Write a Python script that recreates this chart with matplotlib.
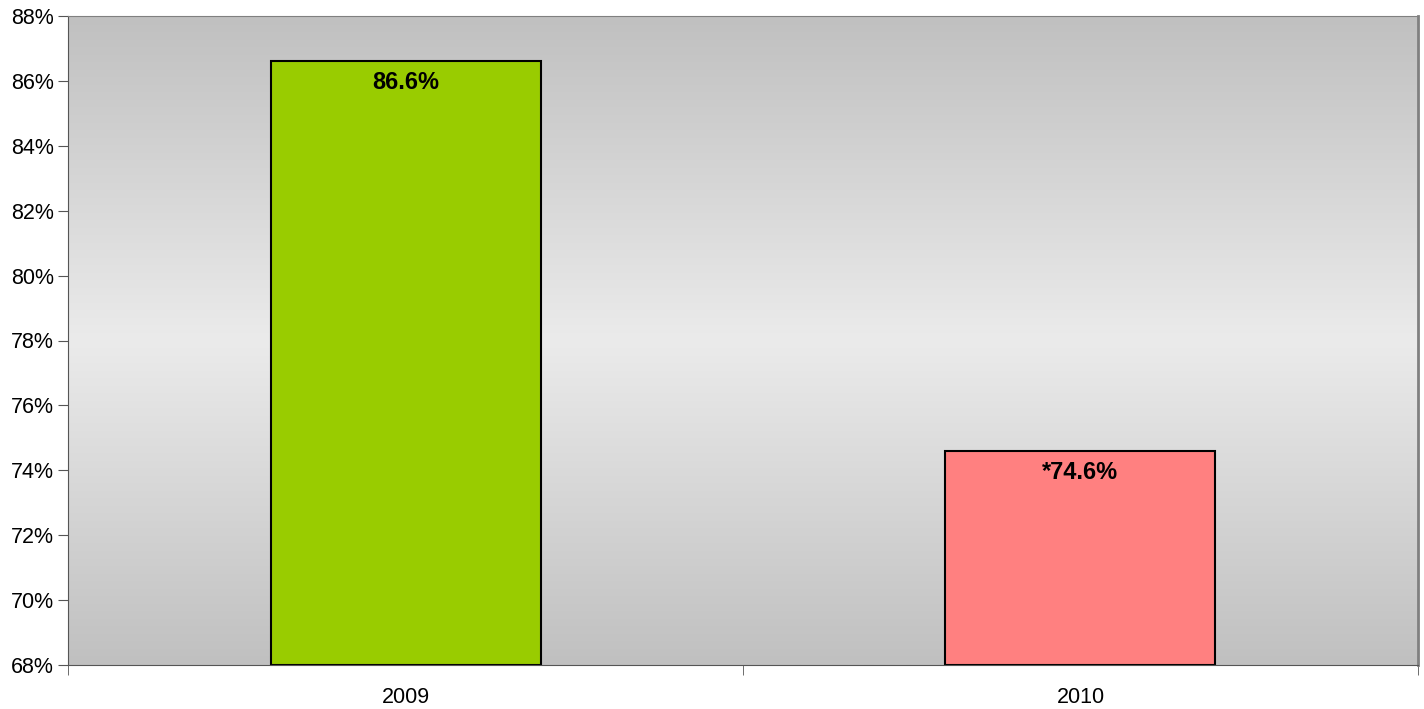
import numpy as np
import matplotlib.pyplot as plt
from matplotlib.colors import LinearSegmentedColormap
from matplotlib.ticker import FuncFormatter

years = ['2009', '2010']
values = [86.6, 74.6]
labels = ['86.6%', '*74.6%']
colors = ['#99cc00', '#ff8080']

plt.rcParams['font.family'] = ['Liberation Sans', 'DejaVu Sans']

fig = plt.figure(figsize=(14.24, 7.09), dpi=100)
ax = fig.add_axes([68/1424, 1-665/709, 1350/1424, 649/709])

ymin, ymax = 68, 88
x = np.arange(len(years))

# gray gradient background: dark at top and bottom, light in the middle
cmap = LinearSegmentedColormap.from_list('bg', ['#c0c0c0', '#ebebeb', '#c0c0c0'])
grad = np.linspace(0, 1, 256).reshape(-1, 1)
ax.imshow(grad, cmap=cmap, aspect='auto', extent=[-0.5, 1.5, ymin, ymax],
          origin='lower', zorder=0)

ax.bar(x, [v - ymin for v in values], bottom=ymin, width=0.4, color=colors,
       edgecolor='black', linewidth=1.5, zorder=2)
for xi, v, lab in zip(x, values, labels):
    ax.text(xi, v - 0.3, lab, ha='center', va='top', fontsize=17,
            fontweight='bold', zorder=3)

ax.set_xlim(-0.5, 1.5)
ax.set_ylim(ymin, ymax)
ax.set_yticks(np.arange(68, 89, 2))
ax.yaxis.set_major_formatter(FuncFormatter(lambda v, p: '%d%%' % v))
ax.set_xticks(x)
ax.set_xticklabels(years)
ax.set_xticks([-0.5, 0.5, 1.5], minor=True)
ax.tick_params(axis='x', which='major', length=0, pad=16, labelsize=15.5)
ax.tick_params(axis='x', which='minor', length=7, direction='out', color='#555555')
ax.tick_params(axis='y', length=7, direction='out', labelsize=15.5, pad=3,
               color='#555555')

ax.spines['top'].set_color('#808080')
ax.spines['right'].set_color('#808080')
ax.spines['right'].set_linewidth(2)
ax.spines['left'].set_color('#555555')
ax.spines['bottom'].set_color('#555555')

fig.savefig('out.png', dpi=100)
